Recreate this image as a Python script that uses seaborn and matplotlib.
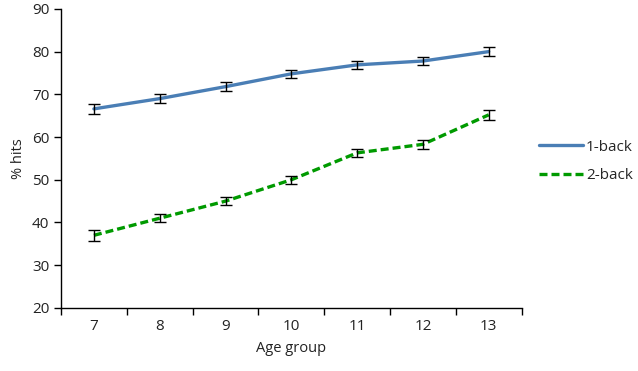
import matplotlib
matplotlib.use("Agg")
import matplotlib.pyplot as plt
import seaborn as sns
import pandas as pd
import numpy as np

ages = [7, 8, 9, 10, 11, 12, 13]
one_back = [66.6, 69.0, 71.8, 74.8, 76.9, 77.8, 80.0]
two_back = [37.0, 41.0, 45.0, 50.0, 56.3, 58.3, 65.2]
one_back_err = [1.2, 1.0, 1.0, 0.9, 1.0, 1.0, 1.1]
two_back_err = [1.3, 1.0, 0.9, 1.0, 1.0, 1.0, 1.2]
series_names = ["1-back", "2-back"]

sns.set_style("white")
plt.rcParams['font.family'] = ['Open Sans', 'DejaVu Sans']

df = pd.DataFrame({
    "age": ages * 2,
    "hits": one_back + two_back,
    "cond": [series_names[0]] * len(ages) + [series_names[1]] * len(ages),
})

fig = plt.figure(figsize=(6.38, 3.71), dpi=100)
ax = fig.add_axes([0.0956, 0.170, 0.722, 0.806])

colors = {"1-back": "#4a7eb5", "2-back": "#009a00"}
sns.lineplot(data=df, x="age", y="hits", hue="cond", style="cond",
             palette=colors, dashes={"1-back": "", "2-back": (2.4, 1.2)},
             linewidth=2.4, ax=ax, legend=True)

for vals, errs in [(one_back, one_back_err), (two_back, two_back_err)]:
    ax.errorbar(ages, vals, yerr=errs, fmt="none", ecolor="black",
                elinewidth=1.0, capsize=4.0, capthick=1.0, zorder=5)

ax.set_xlim(6.5, 13.5)
ax.set_ylim(20, 90)
ax.set_yticks(range(20, 91, 10))
ax.set_xticks(ages)
ax.set_xticks(np.arange(6.5, 13.6, 1.0), minor=True)
ax.tick_params(axis="x", which="major", length=0, labelsize=11, pad=8, colors="#222222")
ax.tick_params(axis="x", which="minor", length=5, width=1, direction="out", color="black")
ax.tick_params(axis="y", length=5, width=1, direction="out", labelsize=11, left=True,
               colors="black", labelcolor="#222222")
ax.xaxis.set_ticks_position("bottom")
ax.yaxis.set_ticks_position("left")
for s in ["top", "right"]:
    ax.spines[s].set_visible(False)
for s in ["left", "bottom"]:
    ax.spines[s].set_color("black")
    ax.spines[s].set_linewidth(1.0)

ax.set_xlabel("Age group", fontsize=10.5, labelpad=5, color="#222222")
ax.set_ylabel("% hits", fontsize=10.5, labelpad=4, color="#222222")

handles, labels = ax.get_legend_handles_labels()
leg = ax.legend(handles, labels, loc="center left", bbox_to_anchor=(1.007, 0.49),
                frameon=False, fontsize=11, handlelength=2.9, handletextpad=0.2,
                labelspacing=0.9)

fig.savefig("out.png", dpi=100)
